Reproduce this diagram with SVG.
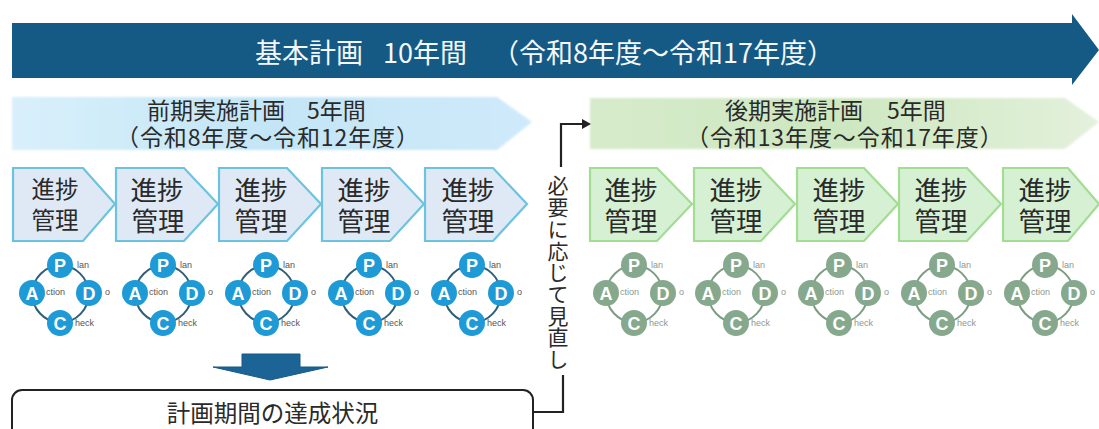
<svg xmlns="http://www.w3.org/2000/svg" width="1099" height="429" viewBox="0 0 1099 429">
<style>
text{font-family:"Noto Sans CJK JP","Liberation Sans",sans-serif;fill:#2a2a2a}
.t{font-size:27px;fill:#f4f8fb}
.s{font-size:23px}
.sp{letter-spacing:.9px}
.k{font-size:26.5px;text-anchor:middle}
.k1{font-size:23.5px;text-anchor:middle}
.bp{fill:#dfe9f5;stroke:#6cc3df;stroke-width:2.2}
.gp{fill:#d5f0d3;stroke:#a3dc93;stroke-width:2.2}
.lb,.lg{font-family:"Liberation Sans",sans-serif;font-size:9px}
.lb{fill:#555}
.lg{fill:#8a9a90}
.rb{fill:none;stroke:#2f5f78;stroke-width:2}
.rg{fill:none;stroke:#7c9c84;stroke-width:2}
.cb{fill:#1e9ad6}
.cg{fill:#86a98d}
.c{font-family:"Liberation Sans",sans-serif;font-size:18px;font-weight:bold;text-anchor:middle;fill:#fff}
.w{fill:none;stroke:#222;stroke-width:2.2}
</style>
<defs>
<linearGradient id="lb" x1="0" x2="1" y1="0" y2="0"><stop offset="0" stop-color="#d9f0fb"/><stop offset=".5" stop-color="#c3e5f6"/><stop offset="1" stop-color="#cfeafa"/></linearGradient>
<linearGradient id="lg" x1="0" x2="1" y1="0" y2="0"><stop offset="0" stop-color="#d6ebcb"/><stop offset=".5" stop-color="#cde7c0"/><stop offset="1" stop-color="#e4f1dc"/></linearGradient>
<filter id="soft" x="-5%" y="-10%" width="110%" height="120%"><feGaussianBlur stdDeviation="1.2"/></filter>
<marker id="ah" markerWidth="9" markerHeight="10" refX="7" refY="5" orient="auto" markerUnits="userSpaceOnUse"><path d="M0 0L9 5L0 10Z" fill="#222"/></marker>
</defs>
<g id="main-arrow"><path d="M12 23H1072V14L1099 50L1072 85V78H12Z" fill="#155a85"/>
<text class="t" y="63"><tspan x="255">基本計画</tspan><tspan x="383">10年間</tspan><tspan x="492">（令和8年度～令和17年度）</tspan></text></g>
<g id="early-plan"><path d="M12 97H497L532 122L497 150H12Z" fill="url(#lb)" filter="url(#soft)"/>
<text class="s" y="119"><tspan x="147">前期実施計画</tspan><tspan x="307">5年間</tspan></text><text class="s sp" x="116" y="146">（令和8年度～令和12年度）</text></g>
<g id="late-plan"><path d="M590 98H1065L1099 122L1065 149H590Z" fill="url(#lg)" filter="url(#soft)"/>
<text class="s" y="119"><tspan x="725">後期実施計画</tspan><tspan x="887">5年間</tspan></text><text class="s sp" x="686" y="146">（令和13年度～令和17年度）</text></g>
<g id="b1"><path class="bp" d="M13 168H83L115 204L83 241H13Z"/><text class="k1" x="55" y="198">進捗</text><text class="k1" x="55" y="229">管理</text></g>
<g id="b2"><path class="bp" d="M116 168H184L218 204L184 241H116Z"/><text class="k" x="157" y="200">進捗</text><text class="k" x="158" y="231">管理</text></g>
<g id="b3"><path class="bp" d="M219 168H287L321 204L287 241H219Z"/><text class="k" x="261" y="200">進捗</text><text class="k" x="261" y="231">管理</text></g>
<g id="b4"><path class="bp" d="M322 168H390L424 204L390 241H322Z"/><text class="k" x="364" y="200">進捗</text><text class="k" x="364" y="231">管理</text></g>
<g id="b5"><path class="bp" d="M425 168H493L527 204L493 241H425Z"/><text class="k" x="468" y="200">進捗</text><text class="k" x="468" y="231">管理</text></g>
<g id="g1"><path class="gp" d="M590 168H657L692 204L657 241H590Z"/><text class="k" x="631" y="200">進捗</text><text class="k" x="631" y="231">管理</text></g>
<g id="g2"><path class="gp" d="M694 168H761L795 204L761 241H694Z"/><text class="k" x="736" y="200">進捗</text><text class="k" x="736" y="231">管理</text></g>
<g id="g3"><path class="gp" d="M797 168H864L898 204L864 241H797Z"/><text class="k" x="839" y="200">進捗</text><text class="k" x="839" y="231">管理</text></g>
<g id="g4"><path class="gp" d="M899 168H967L1001 204L967 241H899Z"/><text class="k" x="941" y="200">進捗</text><text class="k" x="941" y="231">管理</text></g>
<g id="g5"><path class="gp" d="M1003 168H1068L1099 204L1068 241H1003Z"/><text class="k" x="1045" y="200">進捗</text><text class="k" x="1045" y="231">管理</text></g>

<g id="pdca-b1" transform="translate(0 0)"><path class="rb" d="M32 293A30 30 0 0 1 60 265A30 30 0 0 1 89 293A30 30 0 0 1 60 323A30 30 0 0 1 32 293Z"/><circle class="cb" cx="60" cy="265" r="13"/><circle class="cb" cx="32" cy="293" r="13"/><circle class="cb" cx="89" cy="293" r="13"/><circle class="cb" cx="60" cy="323" r="13"/><text class="c" x="60" y="271.500">P</text><text class="c" x="32" y="299.500">A</text><text class="c" x="89" y="299.500">D</text><text class="c" x="60" y="329.500">C</text><text class="lb" x="77" y="268">lan</text><text class="lb" x="46" y="295">ction</text><text class="lb" x="105" y="295">o</text><text class="lb" x="75" y="326">heck</text></g>
<g id="pdca-b2" transform="translate(103 0)"><path class="rb" d="M32 293A30 30 0 0 1 60 265A30 30 0 0 1 89 293A30 30 0 0 1 60 323A30 30 0 0 1 32 293Z"/><circle class="cb" cx="60" cy="265" r="13"/><circle class="cb" cx="32" cy="293" r="13"/><circle class="cb" cx="89" cy="293" r="13"/><circle class="cb" cx="60" cy="323" r="13"/><text class="c" x="60" y="271.500">P</text><text class="c" x="32" y="299.500">A</text><text class="c" x="89" y="299.500">D</text><text class="c" x="60" y="329.500">C</text><text class="lb" x="77" y="268">lan</text><text class="lb" x="46" y="295">ction</text><text class="lb" x="105" y="295">o</text><text class="lb" x="75" y="326">heck</text></g>
<g id="pdca-b3" transform="translate(206 0)"><path class="rb" d="M32 293A30 30 0 0 1 60 265A30 30 0 0 1 89 293A30 30 0 0 1 60 323A30 30 0 0 1 32 293Z"/><circle class="cb" cx="60" cy="265" r="13"/><circle class="cb" cx="32" cy="293" r="13"/><circle class="cb" cx="89" cy="293" r="13"/><circle class="cb" cx="60" cy="323" r="13"/><text class="c" x="60" y="271.500">P</text><text class="c" x="32" y="299.500">A</text><text class="c" x="89" y="299.500">D</text><text class="c" x="60" y="329.500">C</text><text class="lb" x="77" y="268">lan</text><text class="lb" x="46" y="295">ction</text><text class="lb" x="105" y="295">o</text><text class="lb" x="75" y="326">heck</text></g>
<g id="pdca-b4" transform="translate(309 0)"><path class="rb" d="M32 293A30 30 0 0 1 60 265A30 30 0 0 1 89 293A30 30 0 0 1 60 323A30 30 0 0 1 32 293Z"/><circle class="cb" cx="60" cy="265" r="13"/><circle class="cb" cx="32" cy="293" r="13"/><circle class="cb" cx="89" cy="293" r="13"/><circle class="cb" cx="60" cy="323" r="13"/><text class="c" x="60" y="271.500">P</text><text class="c" x="32" y="299.500">A</text><text class="c" x="89" y="299.500">D</text><text class="c" x="60" y="329.500">C</text><text class="lb" x="77" y="268">lan</text><text class="lb" x="46" y="295">ction</text><text class="lb" x="105" y="295">o</text><text class="lb" x="75" y="326">heck</text></g>
<g id="pdca-b5" transform="translate(412 0)"><path class="rb" d="M32 293A30 30 0 0 1 60 265A30 30 0 0 1 89 293A30 30 0 0 1 60 323A30 30 0 0 1 32 293Z"/><circle class="cb" cx="60" cy="265" r="13"/><circle class="cb" cx="32" cy="293" r="13"/><circle class="cb" cx="89" cy="293" r="13"/><circle class="cb" cx="60" cy="323" r="13"/><text class="c" x="60" y="271.500">P</text><text class="c" x="32" y="299.500">A</text><text class="c" x="89" y="299.500">D</text><text class="c" x="60" y="329.500">C</text><text class="lb" x="77" y="268">lan</text><text class="lb" x="46" y="295">ction</text><text class="lb" x="105" y="295">o</text><text class="lb" x="75" y="326">heck</text></g>
<g id="pdca-g1" transform="translate(574 0)"><path class="rg" d="M32 293A30 30 0 0 1 60 265A30 30 0 0 1 89 293A30 30 0 0 1 60 323A30 30 0 0 1 32 293Z"/><circle class="cg" cx="60" cy="265" r="13"/><circle class="cg" cx="32" cy="293" r="13"/><circle class="cg" cx="89" cy="293" r="13"/><circle class="cg" cx="60" cy="323" r="13"/><text class="c" x="60" y="271.500">P</text><text class="c" x="32" y="299.500">A</text><text class="c" x="89" y="299.500">D</text><text class="c" x="60" y="329.500">C</text><text class="lg" x="77" y="268">lan</text><text class="lg" x="46" y="295">ction</text><text class="lg" x="105" y="295">o</text><text class="lg" x="75" y="326">heck</text></g>
<g id="pdca-g2" transform="translate(676 0)"><path class="rg" d="M32 293A30 30 0 0 1 60 265A30 30 0 0 1 89 293A30 30 0 0 1 60 323A30 30 0 0 1 32 293Z"/><circle class="cg" cx="60" cy="265" r="13"/><circle class="cg" cx="32" cy="293" r="13"/><circle class="cg" cx="89" cy="293" r="13"/><circle class="cg" cx="60" cy="323" r="13"/><text class="c" x="60" y="271.500">P</text><text class="c" x="32" y="299.500">A</text><text class="c" x="89" y="299.500">D</text><text class="c" x="60" y="329.500">C</text><text class="lg" x="77" y="268">lan</text><text class="lg" x="46" y="295">ction</text><text class="lg" x="105" y="295">o</text><text class="lg" x="75" y="326">heck</text></g>
<g id="pdca-g3" transform="translate(779 0)"><path class="rg" d="M32 293A30 30 0 0 1 60 265A30 30 0 0 1 89 293A30 30 0 0 1 60 323A30 30 0 0 1 32 293Z"/><circle class="cg" cx="60" cy="265" r="13"/><circle class="cg" cx="32" cy="293" r="13"/><circle class="cg" cx="89" cy="293" r="13"/><circle class="cg" cx="60" cy="323" r="13"/><text class="c" x="60" y="271.500">P</text><text class="c" x="32" y="299.500">A</text><text class="c" x="89" y="299.500">D</text><text class="c" x="60" y="329.500">C</text><text class="lg" x="77" y="268">lan</text><text class="lg" x="46" y="295">ction</text><text class="lg" x="105" y="295">o</text><text class="lg" x="75" y="326">heck</text></g>
<g id="pdca-g4" transform="translate(882 0)"><path class="rg" d="M32 293A30 30 0 0 1 60 265A30 30 0 0 1 89 293A30 30 0 0 1 60 323A30 30 0 0 1 32 293Z"/><circle class="cg" cx="60" cy="265" r="13"/><circle class="cg" cx="32" cy="293" r="13"/><circle class="cg" cx="89" cy="293" r="13"/><circle class="cg" cx="60" cy="323" r="13"/><text class="c" x="60" y="271.500">P</text><text class="c" x="32" y="299.500">A</text><text class="c" x="89" y="299.500">D</text><text class="c" x="60" y="329.500">C</text><text class="lg" x="77" y="268">lan</text><text class="lg" x="46" y="295">ction</text><text class="lg" x="105" y="295">o</text><text class="lg" x="75" y="326">heck</text></g>
<g id="pdca-g5" transform="translate(985 0)"><path class="rg" d="M32 293A30 30 0 0 1 60 265A30 30 0 0 1 89 293A30 30 0 0 1 60 323A30 30 0 0 1 32 293Z"/><circle class="cg" cx="60" cy="265" r="13"/><circle class="cg" cx="32" cy="293" r="13"/><circle class="cg" cx="89" cy="293" r="13"/><circle class="cg" cx="60" cy="323" r="13"/><text class="c" x="60" y="271.500">P</text><text class="c" x="32" y="299.500">A</text><text class="c" x="89" y="299.500">D</text><text class="c" x="60" y="329.500">C</text><text class="lg" x="77" y="268">lan</text><text class="lg" x="46" y="295">ction</text><text class="lg" x="105" y="295">o</text><text class="lg" x="75" y="326">heck</text></g>
<g id="down-arrow"><path d="M242 354H300V367H328L270 380L213 367H242Z" fill="#1c6496" stroke="#155a85"/></g>
<g id="result"><rect x="12" y="390" width="521" height="60" rx="10" fill="#fff" stroke="#222" stroke-width="2"/>
<text class="s" x="272.500" y="421.500" text-anchor="middle" style="font-size:23.500px">計画期間の達成状況</text></g>
<g id="connectors"><path class="w" d="M533 412H563V375"/><path class="w" d="M561 167V124H589" marker-end="url(#ah)"/></g>
<text id="review-label" x="558" y="175" font-size="21" writing-mode="vertical-rl" dominant-baseline="central" style="letter-spacing:.7px">必要に応じて見直し</text>
</svg>
